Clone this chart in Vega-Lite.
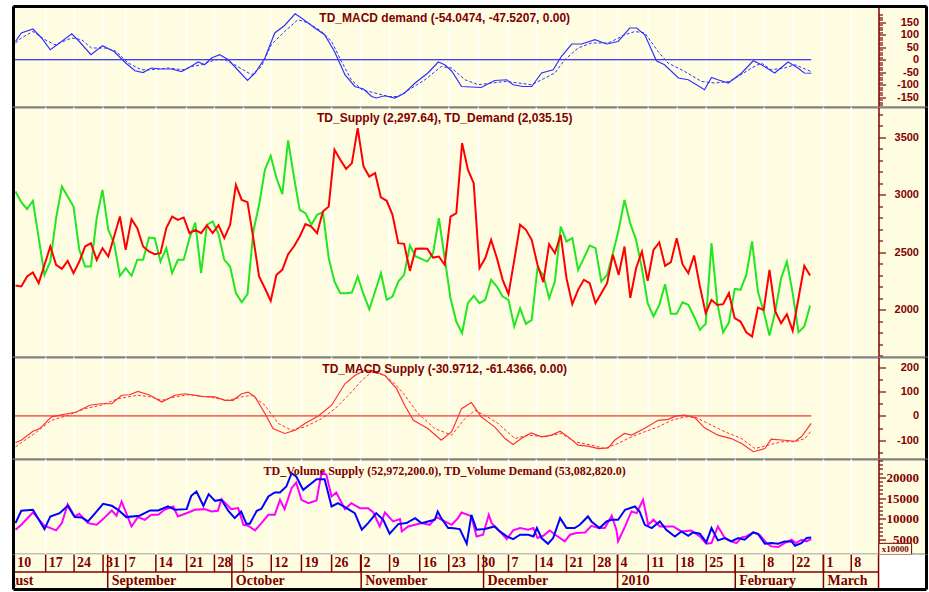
{
"$schema":"https://vega.github.io/schema/vega-lite/v6.json",
"background":"#ffffff",
"padding":{"left":10.5,"top":3.5,"right":2,"bottom":2.5},
"bounds":"flush",
"spacing":0,
"config":{"view":{"fill":"#FFFDE1","stroke":"#808080","strokeWidth":2},
 "axis":{"labelColor":"#800000","tickColor":"#800000","domainColor":"#800000","domainWidth":1.5,"tickWidth":1.2,"labelFontWeight":"bold","labelOverlap":false,"labelBound":false,"labelFlush":false,"grid":false}},
"datasets":{
"sd":[{"t":0,"s":2211,"d":3030},{"t":1,"s":2203,"d":2937},{"t":2,"s":2290,"d":2876},{"t":3,"s":2325,"d":2949},{"t":4,"s":2232,"d":2624},{"t":5,"s":2392,"d":2304},{"t":6,"s":2551,"d":2420},{"t":7,"s":2392,"d":2798},{"t":8,"s":2357,"d":3073},{"t":9,"s":2426,"d":2986},{"t":10,"s":2319,"d":2899},{"t":11,"s":2420,"d":2522},{"t":12,"s":2551,"d":2377},{"t":13,"s":2580,"d":2377},{"t":14,"s":2435,"d":2798},{"t":15,"s":2537,"d":3044},{"t":16,"s":2464,"d":2696},{"t":17,"s":2638,"d":2580},{"t":18,"s":2812,"d":2296},{"t":19,"s":2522,"d":2362},{"t":20,"s":2789,"d":2296},{"t":21,"s":2711,"d":2435},{"t":22,"s":2551,"d":2435},{"t":23,"s":2508,"d":2629},{"t":24,"s":2484,"d":2624},{"t":25,"s":2493,"d":2420},{"t":26,"s":2711,"d":2537},{"t":27,"s":2812,"d":2319},{"t":28,"s":2783,"d":2435},{"t":29,"s":2804,"d":2435},{"t":30,"s":2667,"d":2624},{"t":31,"s":2696,"d":2760},{"t":32,"s":2667,"d":2319},{"t":33,"s":2734,"d":2740},{"t":34,"s":2667,"d":2769},{"t":35,"s":2737,"d":2660},{"t":36,"s":2624,"d":2435},{"t":37,"s":2740,"d":2377},{"t":38,"s":3088,"d":2145},{"t":39,"s":2957,"d":2066},{"t":40,"s":2937,"d":2136},{"t":41,"s":2624,"d":2682},{"t":42,"s":2290,"d":2914},{"t":43,"s":2188,"d":3219},{"t":44,"s":2078,"d":3340},{"t":45,"s":2305,"d":3146},{"t":46,"s":2348,"d":3007},{"t":47,"s":2484,"d":3474},{"t":48,"s":2551,"d":3160},{"t":49,"s":2638,"d":2870},{"t":50,"s":2746,"d":2841},{"t":51,"s":2725,"d":2740},{"t":52,"s":2667,"d":2827},{"t":53,"s":2856,"d":2850},{"t":54,"s":2899,"d":2450},{"t":55,"s":3393,"d":2246},{"t":56,"s":3306,"d":2145},{"t":57,"s":3227,"d":2145},{"t":58,"s":3277,"d":2151},{"t":59,"s":3581,"d":2290},{"t":60,"s":3248,"d":2136},{"t":61,"s":3160,"d":2005},{"t":62,"s":3190,"d":2159},{"t":63,"s":2978,"d":2319},{"t":64,"s":2949,"d":2087},{"t":65,"s":2827,"d":2116},{"t":66,"s":2580,"d":2246},{"t":67,"s":2574,"d":2304},{"t":68,"s":2339,"d":2560},{"t":69,"s":2531,"d":2464},{"t":70,"s":2534,"d":2443},{"t":71,"s":2531,"d":2420},{"t":72,"s":2455,"d":2493},{"t":73,"s":2464,"d":2798},{"t":74,"s":2392,"d":2450},{"t":75,"s":2812,"d":2101},{"t":76,"s":2841,"d":1898},{"t":77,"s":3451,"d":1797},{"t":78,"s":3219,"d":2058},{"t":79,"s":3102,"d":2122},{"t":80,"s":2362,"d":2058},{"t":81,"s":2450,"d":2087},{"t":82,"s":2609,"d":2261},{"t":83,"s":2450,"d":2203},{"t":84,"s":2261,"d":2116},{"t":85,"s":2136,"d":2087},{"t":86,"s":2435,"d":1855},{"t":87,"s":2740,"d":2014},{"t":88,"s":2696,"d":1878},{"t":89,"s":2609,"d":1913},{"t":90,"s":2392,"d":2362},{"t":91,"s":2241,"d":2304},{"t":92,"s":2571,"d":2101},{"t":93,"s":2493,"d":2246},{"t":94,"s":2653,"d":2725},{"t":95,"s":2275,"d":2595},{"t":96,"s":2049,"d":2624},{"t":97,"s":2174,"d":2348},{"t":98,"s":2261,"d":2450},{"t":99,"s":2232,"d":2560},{"t":100,"s":2058,"d":2537},{"t":101,"s":2145,"d":2246},{"t":102,"s":2232,"d":2304},{"t":103,"s":2479,"d":2493},{"t":104,"s":2304,"d":2696},{"t":105,"s":2551,"d":2957},{"t":106,"s":2104,"d":2750},{"t":107,"s":2362,"d":2609},{"t":108,"s":2508,"d":2362},{"t":109,"s":2252,"d":2058},{"t":110,"s":2522,"d":1942},{"t":111,"s":2586,"d":2043},{"t":112,"s":2383,"d":2223},{"t":113,"s":2415,"d":1965},{"t":114,"s":2624,"d":1965},{"t":115,"s":2397,"d":2066},{"t":116,"s":2319,"d":2043},{"t":117,"s":2473,"d":1942},{"t":118,"s":2203,"d":1826},{"t":119,"s":1971,"d":1878},{"t":120,"s":2087,"d":2580},{"t":121,"s":2043,"d":2058},{"t":122,"s":2049,"d":1802},{"t":123,"s":2145,"d":1889},{"t":124,"s":1927,"d":2183},{"t":125,"s":1898,"d":2174},{"t":126,"s":1805,"d":2304},{"t":127,"s":1768,"d":2595},{"t":128,"s":2020,"d":2159},{"t":129,"s":1999,"d":1985},{"t":130,"s":2348,"d":1776},{"t":131,"s":1985,"d":1985},{"t":132,"s":1884,"d":2275},{"t":133,"s":1962,"d":2420},{"t":134,"s":1817,"d":2145},{"t":135,"s":2101,"d":1805},{"t":136,"s":2383,"d":1855},{"t":137,"s":2298,"d":2035}],
"md":[{"t":0,"k":"m","v":73},{"t":1,"k":"m","v":107},{"t":3,"k":"m","v":123},{"t":4.5,"k":"m","v":87},{"t":6,"k":"m","v":40},{"t":7.6,"k":"m","v":67},{"t":9.7,"k":"m","v":104},{"t":11,"k":"m","v":73},{"t":13,"k":"m","v":20},{"t":15,"k":"m","v":56},{"t":17,"k":"m","v":33},{"t":19,"k":"m","v":-13},{"t":20.6,"k":"m","v":-44},{"t":22,"k":"m","v":-51},{"t":23.4,"k":"m","v":-33},{"t":25,"k":"m","v":-37},{"t":26.9,"k":"m","v":-37},{"t":28.6,"k":"m","v":-47},{"t":29.8,"k":"m","v":-33},{"t":31.5,"k":"m","v":-9},{"t":32.6,"k":"m","v":-20},{"t":33.8,"k":"m","v":7},{"t":35.2,"k":"m","v":20},{"t":36.7,"k":"m","v":0},{"t":38,"k":"m","v":-33},{"t":40,"k":"m","v":-83},{"t":41.3,"k":"m","v":-53},{"t":43,"k":"m","v":7},{"t":44.7,"k":"m","v":107},{"t":46.4,"k":"m","v":137},{"t":48.2,"k":"m","v":184},{"t":49.3,"k":"m","v":167},{"t":51.6,"k":"m","v":127},{"t":53.3,"k":"m","v":100},{"t":55,"k":"m","v":33},{"t":56.8,"k":"m","v":-60},{"t":58.5,"k":"m","v":-107},{"t":60,"k":"m","v":-117},{"t":61.4,"k":"m","v":-147},{"t":62.2,"k":"m","v":-153},{"t":63.7,"k":"m","v":-144},{"t":65.4,"k":"m","v":-153},{"t":67.1,"k":"m","v":-133},{"t":68.9,"k":"m","v":-93},{"t":71.1,"k":"m","v":-53},{"t":72.9,"k":"m","v":-9},{"t":74,"k":"m","v":-20},{"t":75.2,"k":"m","v":-45},{"t":76.9,"k":"m","v":-107},{"t":80.3,"k":"m","v":-111},{"t":82.6,"k":"m","v":-83},{"t":84.7,"k":"m","v":-80},{"t":85.8,"k":"m","v":-100},{"t":87.5,"k":"m","v":-107},{"t":89,"k":"m","v":-107},{"t":90.7,"k":"m","v":-53},{"t":92.7,"k":"m","v":-40},{"t":94.1,"k":"m","v":13},{"t":95.9,"k":"m","v":63},{"t":97.6,"k":"m","v":63},{"t":99.9,"k":"m","v":80},{"t":101.9,"k":"m","v":63},{"t":103.9,"k":"m","v":73},{"t":105.9,"k":"m","v":127},{"t":107.1,"k":"m","v":127},{"t":108.5,"k":"m","v":100},{"t":110.5,"k":"m","v":-4},{"t":111.9,"k":"m","v":-20},{"t":114.3,"k":"m","v":-73},{"t":116,"k":"m","v":-80},{"t":118.8,"k":"m","v":-120},{"t":120,"k":"m","v":-71},{"t":121.1,"k":"m","v":-80},{"t":122.9,"k":"m","v":-93},{"t":125.2,"k":"m","v":-53},{"t":127.2,"k":"m","v":-4},{"t":128.6,"k":"m","v":-20},{"t":130.9,"k":"m","v":-53},{"t":133.2,"k":"m","v":-9},{"t":134.9,"k":"m","v":-33},{"t":136,"k":"m","v":-53},{"t":137.2,"k":"m","v":-54},
{"t":0,"k":"s","v":67},{"t":1,"k":"s","v":87},{"t":3,"k":"s","v":113},{"t":5.1,"k":"s","v":80},{"t":6.8,"k":"s","v":60},{"t":9.7,"k":"s","v":87},{"t":11.4,"k":"s","v":80},{"t":13.1,"k":"s","v":47},{"t":15.4,"k":"s","v":47},{"t":17.4,"k":"s","v":33},{"t":19.4,"k":"s","v":-13},{"t":21.7,"k":"s","v":-40},{"t":23.4,"k":"s","v":-40},{"t":26.3,"k":"s","v":-33},{"t":28.9,"k":"s","v":-40},{"t":30.3,"k":"s","v":-27},{"t":32.1,"k":"s","v":-20},{"t":34.4,"k":"s","v":0},{"t":36.1,"k":"s","v":0},{"t":37.8,"k":"s","v":-20},{"t":40.7,"k":"s","v":-60},{"t":42.4,"k":"s","v":-27},{"t":44.1,"k":"s","v":60},{"t":46.4,"k":"s","v":113},{"t":48.7,"k":"s","v":160},{"t":50.5,"k":"s","v":147},{"t":52.8,"k":"s","v":113},{"t":54.5,"k":"s","v":73},{"t":56.2,"k":"s","v":-7},{"t":57.9,"k":"s","v":-80},{"t":59.7,"k":"s","v":-120},{"t":62,"k":"s","v":-133},{"t":64.3,"k":"s","v":-147},{"t":66,"k":"s","v":-147},{"t":68.3,"k":"s","v":-113},{"t":70.6,"k":"s","v":-80},{"t":73.4,"k":"s","v":-27},{"t":75.2,"k":"s","v":-33},{"t":77.5,"k":"s","v":-80},{"t":79.8,"k":"s","v":-100},{"t":82.1,"k":"s","v":-93},{"t":84.4,"k":"s","v":-87},{"t":86.7,"k":"s","v":-93},{"t":89,"k":"s","v":-100},{"t":90.7,"k":"s","v":-80},{"t":93,"k":"s","v":-53},{"t":94.7,"k":"s","v":0},{"t":97,"k":"s","v":47},{"t":99.3,"k":"s","v":67},{"t":102.2,"k":"s","v":67},{"t":105.1,"k":"s","v":100},{"t":106.8,"k":"s","v":113},{"t":108.5,"k":"s","v":107},{"t":110.8,"k":"s","v":33},{"t":112.5,"k":"s","v":-13},{"t":115.4,"k":"s","v":-47},{"t":118.3,"k":"s","v":-87},{"t":120.6,"k":"s","v":-93},{"t":123,"k":"s","v":-87},{"t":124.6,"k":"s","v":-67},{"t":126.9,"k":"s","v":-33},{"t":128.6,"k":"s","v":-13},{"t":130.3,"k":"s","v":-40},{"t":132.6,"k":"s","v":-33},{"t":134.4,"k":"s","v":-20},{"t":137.2,"k":"s","v":-47.5}],
"ms":[{"t":0,"k":"m","v":-109},{"t":1,"k":"m","v":-100},{"t":3,"k":"m","v":-63},{"t":4.2,"k":"m","v":-52},{"t":6.2,"k":"m","v":-4},{"t":9.1,"k":"m","v":10},{"t":10.5,"k":"m","v":16},{"t":12.8,"k":"m","v":44},{"t":14.8,"k":"m","v":50},{"t":16.6,"k":"m","v":50},{"t":18.3,"k":"m","v":85},{"t":19.7,"k":"m","v":87},{"t":21.1,"k":"m","v":101},{"t":23.2,"k":"m","v":85},{"t":25.2,"k":"m","v":57},{"t":27.5,"k":"m","v":85},{"t":29.2,"k":"m","v":91},{"t":32.1,"k":"m","v":80},{"t":34.4,"k":"m","v":78},{"t":36.1,"k":"m","v":64},{"t":37.5,"k":"m","v":64},{"t":39,"k":"m","v":91},{"t":40.1,"k":"m","v":98},{"t":41.3,"k":"m","v":78},{"t":43,"k":"m","v":10},{"t":44.4,"k":"m","v":-52},{"t":46.4,"k":"m","v":-72},{"t":48.2,"k":"m","v":-59},{"t":49.9,"k":"m","v":-31},{"t":52.2,"k":"m","v":0},{"t":54.5,"k":"m","v":44},{"t":56.8,"k":"m","v":132},{"t":58.5,"k":"m","v":166},{"t":60.2,"k":"m","v":187},{"t":61.4,"k":"m","v":187},{"t":63.7,"k":"m","v":166},{"t":65.7,"k":"m","v":112},{"t":67.1,"k":"m","v":44},{"t":68.6,"k":"m","v":-18},{"t":71.1,"k":"m","v":-52},{"t":73.4,"k":"m","v":-100},{"t":75.2,"k":"m","v":-65},{"t":76.9,"k":"m","v":30},{"t":78.6,"k":"m","v":55},{"t":80.3,"k":"m","v":-4},{"t":82.6,"k":"m","v":-45},{"t":84.4,"k":"m","v":-93},{"t":85.8,"k":"m","v":-117},{"t":87.2,"k":"m","v":-93},{"t":88.9,"k":"m","v":-70},{"t":90.7,"k":"m","v":-86},{"t":92.4,"k":"m","v":-79},{"t":93.9,"k":"m","v":-63},{"t":95.3,"k":"m","v":-86},{"t":97,"k":"m","v":-120},{"t":98.7,"k":"m","v":-124},{"t":100.5,"k":"m","v":-134},{"t":102.2,"k":"m","v":-131},{"t":103.3,"k":"m","v":-100},{"t":105,"k":"m","v":-72},{"t":106.2,"k":"m","v":-79},{"t":108.2,"k":"m","v":-55},{"t":110.8,"k":"m","v":-18},{"t":112.5,"k":"m","v":-14},{"t":113.9,"k":"m","v":0},{"t":115.4,"k":"m","v":3},{"t":117.1,"k":"m","v":-7},{"t":118.8,"k":"m","v":-49},{"t":121.1,"k":"m","v":-79},{"t":123.4,"k":"m","v":-93},{"t":125.2,"k":"m","v":-113},{"t":127.2,"k":"m","v":-147},{"t":129.2,"k":"m","v":-134},{"t":130.3,"k":"m","v":-95},{"t":132.6,"k":"m","v":-100},{"t":134.4,"k":"m","v":-104},{"t":135.5,"k":"m","v":-86},{"t":137.2,"k":"m","v":-31},
{"t":0,"k":"s","v":-127},{"t":1.6,"k":"s","v":-100},{"t":3.3,"k":"s","v":-72},{"t":6.2,"k":"s","v":-18},{"t":9.1,"k":"s","v":3},{"t":12,"k":"s","v":30},{"t":14.8,"k":"s","v":44},{"t":17.7,"k":"s","v":71},{"t":21.1,"k":"s","v":85},{"t":23.4,"k":"s","v":78},{"t":25.2,"k":"s","v":64},{"t":27.5,"k":"s","v":78},{"t":29.8,"k":"s","v":87},{"t":33.2,"k":"s","v":78},{"t":36.7,"k":"s","v":64},{"t":39,"k":"s","v":78},{"t":40.7,"k":"s","v":85},{"t":43,"k":"s","v":44},{"t":45.3,"k":"s","v":-31},{"t":47.6,"k":"s","v":-59},{"t":49.9,"k":"s","v":-45},{"t":52.8,"k":"s","v":-11},{"t":55.1,"k":"s","v":30},{"t":57.4,"k":"s","v":85},{"t":59.7,"k":"s","v":146},{"t":61.4,"k":"s","v":180},{"t":63.7,"k":"s","v":166},{"t":65.4,"k":"s","v":132},{"t":67.1,"k":"s","v":85},{"t":69.4,"k":"s","v":10},{"t":72.3,"k":"s","v":-52},{"t":75.2,"k":"s","v":-79},{"t":77.5,"k":"s","v":-11},{"t":79.2,"k":"s","v":23},{"t":80.9,"k":"s","v":3},{"t":83.2,"k":"s","v":-31},{"t":86.1,"k":"s","v":-93},{"t":88.4,"k":"s","v":-79},{"t":91.3,"k":"s","v":-86},{"t":94.1,"k":"s","v":-72},{"t":96.4,"k":"s","v":-106},{"t":99.3,"k":"s","v":-120},{"t":101.6,"k":"s","v":-134},{"t":103.9,"k":"s","v":-113},{"t":106.2,"k":"s","v":-86},{"t":108.5,"k":"s","v":-65},{"t":110.8,"k":"s","v":-45},{"t":113.1,"k":"s","v":-18},{"t":115.4,"k":"s","v":-4},{"t":117.1,"k":"s","v":-4},{"t":119.4,"k":"s","v":-31},{"t":122.3,"k":"s","v":-65},{"t":125.2,"k":"s","v":-93},{"t":127.5,"k":"s","v":-134},{"t":129.8,"k":"s","v":-120},{"t":132.1,"k":"s","v":-106},{"t":134.4,"k":"s","v":-106},{"t":136.1,"k":"s","v":-93},{"t":137.2,"k":"s","v":-61}],
"vol":[{"t":0,"k":"d","v":9000},{"t":1,"k":"d","v":11950},{"t":3,"k":"d","v":12190},{"t":5,"k":"d","v":7570},{"t":6,"k":"d","v":10600},{"t":7.6,"k":"d","v":11390},{"t":9,"k":"d","v":13150},{"t":10.2,"k":"d","v":10440},{"t":11.4,"k":"d","v":10360},{"t":12.5,"k":"d","v":9400},{"t":14,"k":"d","v":11790},{"t":15.1,"k":"d","v":13620},{"t":16.6,"k":"d","v":13150},{"t":17.7,"k":"d","v":12190},{"t":19.1,"k":"d","v":10440},{"t":21.4,"k":"d","v":10760},{"t":23.2,"k":"d","v":12030},{"t":24.6,"k":"d","v":12030},{"t":26.3,"k":"d","v":12990},{"t":27.5,"k":"d","v":12190},{"t":29.5,"k":"d","v":12350},{"t":30.3,"k":"d","v":15540},{"t":31.2,"k":"d","v":16570},{"t":32.4,"k":"d","v":13150},{"t":33.3,"k":"d","v":15940},{"t":34.4,"k":"d","v":14340},{"t":35.5,"k":"d","v":14580},{"t":36.7,"k":"d","v":11950},{"t":37.8,"k":"d","v":10200},{"t":38.9,"k":"d","v":11790},{"t":39.8,"k":"d","v":8840},{"t":40.4,"k":"d","v":8840},{"t":41.6,"k":"d","v":11950},{"t":42.4,"k":"d","v":12430},{"t":43.6,"k":"d","v":15380},{"t":44.7,"k":"d","v":16330},{"t":45.6,"k":"d","v":16330},{"t":46.7,"k":"d","v":17770},{"t":47.6,"k":"d","v":20960},{"t":48.4,"k":"d","v":20160},{"t":49.6,"k":"d","v":16970},{"t":51.9,"k":"d","v":19520},{"t":53.3,"k":"d","v":19520},{"t":54.5,"k":"d","v":12990},{"t":55.6,"k":"d","v":13780},{"t":56.8,"k":"d","v":12830},{"t":58.5,"k":"d","v":11390},{"t":59.7,"k":"d","v":7410},{"t":60.8,"k":"d","v":9000},{"t":62.2,"k":"d","v":11390},{"t":63.4,"k":"d","v":9800},{"t":64.5,"k":"d","v":6450},{"t":66,"k":"d","v":8760},{"t":67.4,"k":"d","v":9000},{"t":68.9,"k":"d","v":10200},{"t":70,"k":"d","v":9000},{"t":71.1,"k":"d","v":9400},{"t":72.3,"k":"d","v":9800},{"t":72.8,"k":"d","v":11790},{"t":73.4,"k":"d","v":10200},{"t":74.6,"k":"d","v":7810},{"t":75.2,"k":"d","v":7810},{"t":76.6,"k":"d","v":7570},{"t":77.8,"k":"d","v":4060},{"t":78.6,"k":"d","v":10990},{"t":79.5,"k":"d","v":7410},{"t":80.9,"k":"d","v":7570},{"t":82.6,"k":"d","v":8200},{"t":83.5,"k":"d","v":7010},{"t":84.7,"k":"d","v":5810},{"t":85.8,"k":"d","v":5180},{"t":87,"k":"d","v":6210},{"t":88.4,"k":"d","v":6210},{"t":89.3,"k":"d","v":5810},{"t":89.9,"k":"d","v":7810},{"t":90.7,"k":"d","v":5420},{"t":91.8,"k":"d","v":4060},{"t":92.7,"k":"d","v":5420},{"t":93.9,"k":"d","v":10200},{"t":95,"k":"d","v":7810},{"t":96.4,"k":"d","v":7810},{"t":97.3,"k":"d","v":8600},{"t":98.7,"k":"d","v":10600},{"t":99.3,"k":"d","v":9400},{"t":100.7,"k":"d","v":7810},{"t":101.9,"k":"d","v":9400},{"t":102.8,"k":"d","v":9800},{"t":103.9,"k":"d","v":9800},{"t":105.1,"k":"d","v":12190},{"t":106.8,"k":"d","v":12990},{"t":107.6,"k":"d","v":11790},{"t":108.5,"k":"d","v":8600},{"t":109.7,"k":"d","v":7810},{"t":111.1,"k":"d","v":9400},{"t":112.2,"k":"d","v":7410},{"t":113.7,"k":"d","v":5810},{"t":114.8,"k":"d","v":7010},{"t":116,"k":"d","v":5970},{"t":116.8,"k":"d","v":6770},{"t":118,"k":"d","v":6450},{"t":119.1,"k":"d","v":4380},{"t":120,"k":"d","v":7810},{"t":121.1,"k":"d","v":4860},{"t":122.3,"k":"d","v":5420},{"t":123.4,"k":"d","v":4620},{"t":124.6,"k":"d","v":5420},{"t":125.7,"k":"d","v":5020},{"t":127.2,"k":"d","v":6770},{"t":128,"k":"d","v":6450},{"t":129.2,"k":"d","v":4060},{"t":130.3,"k":"d","v":4220},{"t":131.5,"k":"d","v":4060},{"t":132.6,"k":"d","v":4620},{"t":133.8,"k":"d","v":4620},{"t":134.4,"k":"d","v":3580},{"t":135.5,"k":"d","v":4220},{"t":136.4,"k":"d","v":5420},{"t":137.2,"k":"d","v":5580},
{"t":0,"k":"s","v":7410},{"t":1,"k":"s","v":8600},{"t":3,"k":"s","v":11550},{"t":5,"k":"s","v":8360},{"t":7,"k":"s","v":7250},{"t":8,"k":"s","v":9000},{"t":9,"k":"s","v":13540},{"t":10.2,"k":"s","v":10600},{"t":11,"k":"s","v":11230},{"t":12.5,"k":"s","v":9000},{"t":14,"k":"s","v":8600},{"t":15.1,"k":"s","v":9960},{"t":16.6,"k":"s","v":12030},{"t":17.4,"k":"s","v":10760},{"t":18.3,"k":"s","v":14180},{"t":20,"k":"s","v":8200},{"t":21.1,"k":"s","v":10440},{"t":22.3,"k":"s","v":9800},{"t":23.4,"k":"s","v":10990},{"t":24.6,"k":"s","v":10990},{"t":25.7,"k":"s","v":12190},{"t":27.2,"k":"s","v":12990},{"t":28,"k":"s","v":10600},{"t":29.8,"k":"s","v":11550},{"t":30.9,"k":"s","v":12190},{"t":32.6,"k":"s","v":12350},{"t":33.8,"k":"s","v":11790},{"t":34.9,"k":"s","v":11950},{"t":35.5,"k":"s","v":14740},{"t":37.2,"k":"s","v":12350},{"t":38.4,"k":"s","v":12590},{"t":39.3,"k":"s","v":8600},{"t":40.1,"k":"s","v":8360},{"t":41.3,"k":"s","v":7250},{"t":42.4,"k":"s","v":9000},{"t":43.6,"k":"s","v":10990},{"t":44.7,"k":"s","v":10990},{"t":45.6,"k":"s","v":14580},{"t":46.4,"k":"s","v":12350},{"t":47.6,"k":"s","v":17370},{"t":48.4,"k":"s","v":18720},{"t":49.3,"k":"s","v":14580},{"t":50.5,"k":"s","v":13780},{"t":51.9,"k":"s","v":14420},{"t":52.8,"k":"s","v":21350},{"t":53.6,"k":"s","v":20560},{"t":54.5,"k":"s","v":15380},{"t":55.3,"k":"s","v":16330},{"t":56.8,"k":"s","v":12350},{"t":57.9,"k":"s","v":13780},{"t":59.4,"k":"s","v":12590},{"t":60.8,"k":"s","v":12590},{"t":61.7,"k":"s","v":11550},{"t":62.8,"k":"s","v":8200},{"t":63.7,"k":"s","v":11550},{"t":65.1,"k":"s","v":9400},{"t":66.3,"k":"s","v":9960},{"t":66.6,"k":"s","v":7010},{"t":67.7,"k":"s","v":8200},{"t":68.9,"k":"s","v":8600},{"t":70,"k":"s","v":9000},{"t":71.4,"k":"s","v":8600},{"t":72.6,"k":"s","v":10440},{"t":74,"k":"s","v":9400},{"t":75.2,"k":"s","v":8600},{"t":76.3,"k":"s","v":10200},{"t":76.9,"k":"s","v":11550},{"t":78,"k":"s","v":10990},{"t":78.6,"k":"s","v":10600},{"t":79.5,"k":"s","v":5810},{"t":80.6,"k":"s","v":6210},{"t":81.6,"k":"s","v":10990},{"t":82.1,"k":"s","v":9000},{"t":83.5,"k":"s","v":7010},{"t":84.7,"k":"s","v":5180},{"t":85.8,"k":"s","v":7250},{"t":87,"k":"s","v":7810},{"t":88.4,"k":"s","v":7410},{"t":89.3,"k":"s","v":7810},{"t":90,"k":"s","v":5420},{"t":91,"k":"s","v":5970},{"t":92.1,"k":"s","v":7250},{"t":93.3,"k":"s","v":5970},{"t":94.7,"k":"s","v":4620},{"t":95.6,"k":"s","v":6210},{"t":96.7,"k":"s","v":6610},{"t":98.2,"k":"s","v":6770},{"t":99.3,"k":"s","v":8360},{"t":100.5,"k":"s","v":7810},{"t":101.6,"k":"s","v":7810},{"t":102.8,"k":"s","v":10760},{"t":103.6,"k":"s","v":7410},{"t":103.9,"k":"s","v":4620},{"t":105.1,"k":"s","v":8200},{"t":106.2,"k":"s","v":11790},{"t":107.1,"k":"s","v":11390},{"t":107.7,"k":"s","v":13150},{"t":108.2,"k":"s","v":14580},{"t":109.1,"k":"s","v":8600},{"t":110,"k":"s","v":9800},{"t":111.1,"k":"s","v":8200},{"t":112.2,"k":"s","v":8200},{"t":113.4,"k":"s","v":8200},{"t":114.8,"k":"s","v":7010},{"t":116.5,"k":"s","v":7250},{"t":118,"k":"s","v":5810},{"t":119.1,"k":"s","v":4060},{"t":120,"k":"s","v":4220},{"t":121.1,"k":"s","v":8200},{"t":122.3,"k":"s","v":5420},{"t":123.4,"k":"s","v":4620},{"t":124.3,"k":"s","v":4220},{"t":125.2,"k":"s","v":5580},{"t":126,"k":"s","v":5810},{"t":127.2,"k":"s","v":6770},{"t":128.3,"k":"s","v":6210},{"t":129.5,"k":"s","v":4220},{"t":130.3,"k":"s","v":3420},{"t":131.5,"k":"s","v":3260},{"t":132.6,"k":"s","v":4220},{"t":133.8,"k":"s","v":5020},{"t":134.6,"k":"s","v":4220},{"t":135.5,"k":"s","v":5020},{"t":136.4,"k":"s","v":4620},{"t":137.2,"k":"s","v":5180}],
"weeks":[{"t":-0.2,"label":"10"},{"t":5.2,"label":"17"},{"t":10.1,"label":"24"},{"t":15.1,"label":"31"},{"t":19,"label":"7"},{"t":24.2,"label":"14"},{"t":29.5,"label":"21"},{"t":34.3,"label":"28"},{"t":39.3,"label":"5"},{"t":44.1,"label":"12"},{"t":49.3,"label":"19"},{"t":54.5,"label":"26"},{"t":59.5,"label":"2"},{"t":64.5,"label":"9"},{"t":69.7,"label":"16"},{"t":74.7,"label":"23"},{"t":79.8,"label":"30"},{"t":85,"label":"7"},{"t":89.8,"label":"14"},{"t":95,"label":"21"},{"t":99.8,"label":"28"},{"t":103.8,"label":"4"},{"t":109.1,"label":"11"},{"t":114.1,"label":"18"},{"t":119.1,"label":"25"},{"t":124.1,"label":"1"},{"t":129.1,"label":"8"},{"t":134.1,"label":"22"},{"t":139.3,"label":"1"},{"t":144.1,"label":"8"}],
"months":[{"t":-5,"label":"August"},{"t":15.9,"label":"September"},{"t":37.3,"label":"October"},{"t":59.6,"label":"November"},{"t":80.7,"label":"December"},{"t":103.8,"label":"2010"},{"t":124.1,"label":"February"},{"t":139.3,"label":"March"}],
"one":[{}]
},
"vconcat":[
{"width":913,"height":101,
 "layer":[
  {"data":{"name":"weeks"},"mark":{"type":"rule","color":"#ffffff","strokeWidth":1.5},"encoding":{"x":{"field":"t","type":"quantitative","scale":{"domain":[-0.345,157.07],"nice":false,"zero":false},"axis":null}}},
  {"data":{"name":"one"},"mark":{"type":"rule","color":"#0000ff","strokeWidth":1},"encoding":{"x":{"datum":-0.345,"type":"quantitative","scale":{"domain":[-0.345,157.07],"nice":false,"zero":false},"axis":null},"x2":{"datum":137.2},"y":{"datum":0,"type":"quantitative","scale":{"domain":[-191,213],"nice":false,"zero":false},"axis":{"orient":"right","offset":-48,"title":null,"values":[-180,-170,-160,-150,-140,-130,-120,-110,-100,-90,-80,-70,-60,-50,-40,-30,-20,-10,0,10,20,30,40,50,60,70,80,90,100,110,120,130,140,150,160,170,180],"labelExpr":"(datum.value % 50 === 0 && abs(datum.value) <= 150) ? ('' + datum.value) : ''","tickSize":{"condition":{"test":"datum.value % 50 === 0","value":7},"value":4},"labelAlign":"right","labelPadding":33,"labelFont":"Liberation Sans","labelFontSize":11}}}},
  {"data":{"name":"md"},"transform":[{"filter":"datum.k === 's'"}],"mark":{"type":"line","color":"#3030ff","strokeWidth":1,"strokeDash":[3,2]},"encoding":{"x":{"field":"t","type":"quantitative","scale":{"domain":[-0.345,157.07],"nice":false,"zero":false},"axis":null},"y":{"field":"v","type":"quantitative","scale":{"domain":[-191,213],"nice":false,"zero":false},"axis":{"orient":"right","offset":-48,"title":null,"values":[-180,-170,-160,-150,-140,-130,-120,-110,-100,-90,-80,-70,-60,-50,-40,-30,-20,-10,0,10,20,30,40,50,60,70,80,90,100,110,120,130,140,150,160,170,180],"labelExpr":"(datum.value % 50 === 0 && abs(datum.value) <= 150) ? ('' + datum.value) : ''","tickSize":{"condition":{"test":"datum.value % 50 === 0","value":7},"value":4},"labelAlign":"right","labelPadding":33,"labelFont":"Liberation Sans","labelFontSize":11}}}},
  {"data":{"name":"md"},"transform":[{"filter":"datum.k === 'm'"}],"mark":{"type":"line","color":"#3030ff","strokeWidth":1.2},"encoding":{"x":{"field":"t","type":"quantitative","scale":{"domain":[-0.345,157.07],"nice":false,"zero":false},"axis":null},"y":{"field":"v","type":"quantitative","scale":{"domain":[-191,213],"nice":false,"zero":false},"axis":{"orient":"right","offset":-48,"title":null,"values":[-180,-170,-160,-150,-140,-130,-120,-110,-100,-90,-80,-70,-60,-50,-40,-30,-20,-10,0,10,20,30,40,50,60,70,80,90,100,110,120,130,140,150,160,170,180],"labelExpr":"(datum.value % 50 === 0 && abs(datum.value) <= 150) ? ('' + datum.value) : ''","tickSize":{"condition":{"test":"datum.value % 50 === 0","value":7},"value":4},"labelAlign":"right","labelPadding":33,"labelFont":"Liberation Sans","labelFontSize":11}}}},
  {"data":{"name":"one"},"mark":{"type":"text","font":"Liberation Sans","fontWeight":"bold","fontSize":12,"color":"#800000"},"encoding":{"x":{"datum":74,"type":"quantitative","scale":{"domain":[-0.345,157.07],"nice":false,"zero":false},"axis":null},"y":{"datum":169,"type":"quantitative","scale":{"domain":[-191,213],"nice":false,"zero":false},"axis":{"orient":"right","offset":-48,"title":null,"values":[-180,-170,-160,-150,-140,-130,-120,-110,-100,-90,-80,-70,-60,-50,-40,-30,-20,-10,0,10,20,30,40,50,60,70,80,90,100,110,120,130,140,150,160,170,180],"labelExpr":"(datum.value % 50 === 0 && abs(datum.value) <= 150) ? ('' + datum.value) : ''","tickSize":{"condition":{"test":"datum.value % 50 === 0","value":7},"value":4},"labelAlign":"right","labelPadding":33,"labelFont":"Liberation Sans","labelFontSize":11}},"text":{"value":"TD_MACD demand (-54.0474, -47.5207, 0.00)"}}},
  {"data":{"name":"one"},"mark":{"type":"rule","color":"#000000","strokeWidth":3},"encoding":{"y":{"datum":213,"type":"quantitative","scale":{"domain":[-191,213],"nice":false,"zero":false},"axis":{"orient":"right","offset":-48,"title":null,"values":[-180,-170,-160,-150,-140,-130,-120,-110,-100,-90,-80,-70,-60,-50,-40,-30,-20,-10,0,10,20,30,40,50,60,70,80,90,100,110,120,130,140,150,160,170,180],"labelExpr":"(datum.value % 50 === 0 && abs(datum.value) <= 150) ? ('' + datum.value) : ''","tickSize":{"condition":{"test":"datum.value % 50 === 0","value":7},"value":4},"labelAlign":"right","labelPadding":33,"labelFont":"Liberation Sans","labelFontSize":11}}}},
  {"data":{"name":"one"},"mark":{"type":"rule","color":"#000000","strokeWidth":3},"encoding":{"x":{"datum":-0.345,"type":"quantitative","scale":{"domain":[-0.345,157.07],"nice":false,"zero":false},"axis":null}}},
  {"data":{"name":"one"},"mark":{"type":"rule","color":"#000000","strokeWidth":3},"encoding":{"x":{"datum":157.07,"type":"quantitative","scale":{"domain":[-0.345,157.07],"nice":false,"zero":false},"axis":null}}}
 ]},
{"width":913,"height":250,
 "layer":[
  {"data":{"name":"weeks"},"mark":{"type":"rule","color":"#ffffff","strokeWidth":1.5},"encoding":{"x":{"field":"t","type":"quantitative","scale":{"domain":[-0.345,157.07],"nice":false,"zero":false},"axis":null}}},
  {"data":{"name":"sd"},"mark":{"type":"line","color":"#22e622","strokeWidth":2},"encoding":{"x":{"field":"t","type":"quantitative","scale":{"domain":[-0.345,157.07],"nice":false,"zero":false},"axis":null},"y":{"field":"d","type":"quantitative","scale":{"domain":[1585,3761],"nice":false,"zero":false},"axis":{"orient":"right","offset":-48,"title":null,"values":[1600,1700,1800,1900,2000,2100,2200,2300,2400,2500,2600,2700,2800,2900,3000,3100,3200,3300,3400,3500,3600,3700],"labelExpr":"datum.value % 500 === 0 ? ('' + datum.value) : ''","tickSize":{"condition":{"test":"datum.value % 500 === 0","value":7},"value":4},"labelAlign":"right","labelPadding":33,"labelFont":"Liberation Sans","labelFontSize":11}}}},
  {"data":{"name":"sd"},"mark":{"type":"line","color":"#ff0000","strokeWidth":2},"encoding":{"x":{"field":"t","type":"quantitative","scale":{"domain":[-0.345,157.07],"nice":false,"zero":false},"axis":null},"y":{"field":"s","type":"quantitative","scale":{"domain":[1585,3761],"nice":false,"zero":false},"axis":{"orient":"right","offset":-48,"title":null,"values":[1600,1700,1800,1900,2000,2100,2200,2300,2400,2500,2600,2700,2800,2900,3000,3100,3200,3300,3400,3500,3600,3700],"labelExpr":"datum.value % 500 === 0 ? ('' + datum.value) : ''","tickSize":{"condition":{"test":"datum.value % 500 === 0","value":7},"value":4},"labelAlign":"right","labelPadding":33,"labelFont":"Liberation Sans","labelFontSize":11}}}},
  {"data":{"name":"one"},"mark":{"type":"text","font":"Liberation Sans","fontWeight":"bold","fontSize":12,"color":"#800000"},"encoding":{"x":{"datum":74,"type":"quantitative","scale":{"domain":[-0.345,157.07],"nice":false,"zero":false},"axis":null},"y":{"datum":3670,"type":"quantitative","scale":{"domain":[1585,3761],"nice":false,"zero":false},"axis":{"orient":"right","offset":-48,"title":null,"values":[1600,1700,1800,1900,2000,2100,2200,2300,2400,2500,2600,2700,2800,2900,3000,3100,3200,3300,3400,3500,3600,3700],"labelExpr":"datum.value % 500 === 0 ? ('' + datum.value) : ''","tickSize":{"condition":{"test":"datum.value % 500 === 0","value":7},"value":4},"labelAlign":"right","labelPadding":33,"labelFont":"Liberation Sans","labelFontSize":11}},"text":{"value":"TD_Supply (2,297.64), TD_Demand (2,035.15)"}}},
  {"data":{"name":"one"},"mark":{"type":"rule","color":"#000000","strokeWidth":3},"encoding":{"x":{"datum":-0.345,"type":"quantitative","scale":{"domain":[-0.345,157.07],"nice":false,"zero":false},"axis":null}}},
  {"data":{"name":"one"},"mark":{"type":"rule","color":"#000000","strokeWidth":3},"encoding":{"x":{"datum":157.07,"type":"quantitative","scale":{"domain":[-0.345,157.07],"nice":false,"zero":false},"axis":null}}}
 ]},
{"width":913,"height":102,
 "layer":[
  {"data":{"name":"weeks"},"mark":{"type":"rule","color":"#ffffff","strokeWidth":1.5},"encoding":{"x":{"field":"t","type":"quantitative","scale":{"domain":[-0.345,157.07],"nice":false,"zero":false},"axis":null}}},
  {"data":{"name":"one"},"mark":{"type":"rule","color":"#ff0000","strokeWidth":1},"encoding":{"x":{"datum":-0.345,"type":"quantitative","scale":{"domain":[-0.345,157.07],"nice":false,"zero":false},"axis":null},"x2":{"datum":137.2},"y":{"datum":0,"type":"quantitative","scale":{"domain":[-179,240],"nice":false,"zero":false},"axis":{"orient":"right","offset":-48,"title":null,"values":[-150,-100,-50,0,50,100,150,200],"labelExpr":"datum.value % 100 === 0 ? ('' + datum.value) : ''","tickSize":{"condition":{"test":"datum.value % 100 === 0","value":7},"value":4},"labelAlign":"right","labelPadding":33,"labelFont":"Liberation Sans","labelFontSize":11}}}},
  {"data":{"name":"ms"},"transform":[{"filter":"datum.k === 's'"}],"mark":{"type":"line","color":"#ff3030","strokeWidth":1,"strokeDash":[3,2]},"encoding":{"x":{"field":"t","type":"quantitative","scale":{"domain":[-0.345,157.07],"nice":false,"zero":false},"axis":null},"y":{"field":"v","type":"quantitative","scale":{"domain":[-179,240],"nice":false,"zero":false},"axis":{"orient":"right","offset":-48,"title":null,"values":[-150,-100,-50,0,50,100,150,200],"labelExpr":"datum.value % 100 === 0 ? ('' + datum.value) : ''","tickSize":{"condition":{"test":"datum.value % 100 === 0","value":7},"value":4},"labelAlign":"right","labelPadding":33,"labelFont":"Liberation Sans","labelFontSize":11}}}},
  {"data":{"name":"ms"},"transform":[{"filter":"datum.k === 'm'"}],"mark":{"type":"line","color":"#ff3030","strokeWidth":1.2},"encoding":{"x":{"field":"t","type":"quantitative","scale":{"domain":[-0.345,157.07],"nice":false,"zero":false},"axis":null},"y":{"field":"v","type":"quantitative","scale":{"domain":[-179,240],"nice":false,"zero":false},"axis":{"orient":"right","offset":-48,"title":null,"values":[-150,-100,-50,0,50,100,150,200],"labelExpr":"datum.value % 100 === 0 ? ('' + datum.value) : ''","tickSize":{"condition":{"test":"datum.value % 100 === 0","value":7},"value":4},"labelAlign":"right","labelPadding":33,"labelFont":"Liberation Sans","labelFontSize":11}}}},
  {"data":{"name":"one"},"mark":{"type":"text","font":"Liberation Sans","fontWeight":"bold","fontSize":12,"color":"#800000"},"encoding":{"x":{"datum":74,"type":"quantitative","scale":{"domain":[-0.345,157.07],"nice":false,"zero":false},"axis":null},"y":{"datum":192,"type":"quantitative","scale":{"domain":[-179,240],"nice":false,"zero":false},"axis":{"orient":"right","offset":-48,"title":null,"values":[-150,-100,-50,0,50,100,150,200],"labelExpr":"datum.value % 100 === 0 ? ('' + datum.value) : ''","tickSize":{"condition":{"test":"datum.value % 100 === 0","value":7},"value":4},"labelAlign":"right","labelPadding":33,"labelFont":"Liberation Sans","labelFontSize":11}},"text":{"value":"TD_MACD Supply (-30.9712, -61.4366, 0.00)"}}},
  {"data":{"name":"one"},"mark":{"type":"rule","color":"#000000","strokeWidth":3},"encoding":{"x":{"datum":-0.345,"type":"quantitative","scale":{"domain":[-0.345,157.07],"nice":false,"zero":false},"axis":null}}},
  {"data":{"name":"one"},"mark":{"type":"rule","color":"#000000","strokeWidth":3},"encoding":{"x":{"datum":157.07,"type":"quantitative","scale":{"domain":[-0.345,157.07],"nice":false,"zero":false},"axis":null}}}
 ]},
{"width":913,"height":95,
 "layer":[
  {"data":{"name":"weeks"},"mark":{"type":"rule","color":"#ffffff","strokeWidth":1.5},"encoding":{"x":{"field":"t","type":"quantitative","scale":{"domain":[-0.345,157.07],"nice":false,"zero":false},"axis":null}}},
  {"data":{"name":"vol"},"transform":[{"filter":"datum.k === 's'"}],"mark":{"type":"line","color":"#ff00ff","strokeWidth":2},"encoding":{"x":{"field":"t","type":"quantitative","scale":{"domain":[-0.345,157.07],"nice":false,"zero":false},"axis":null},"y":{"field":"v","type":"quantitative","scale":{"domain":[1480,24240],"nice":false,"zero":false},"axis":{"orient":"right","offset":-48,"title":null,"values":[2000,3000,4000,5000,6000,7000,8000,9000,10000,11000,12000,13000,14000,15000,16000,17000,18000,19000,20000,21000,22000,23000,24000],"labelExpr":"datum.value % 5000 === 0 ? ('' + datum.value) : ''","tickSize":{"condition":{"test":"datum.value % 5000 === 0","value":7},"value":4},"labelAlign":"right","labelPadding":33,"labelFont":"Liberation Serif","labelFontSize":13}}}},
  {"data":{"name":"vol"},"transform":[{"filter":"datum.k === 'd'"}],"mark":{"type":"line","color":"#0000ff","strokeWidth":2},"encoding":{"x":{"field":"t","type":"quantitative","scale":{"domain":[-0.345,157.07],"nice":false,"zero":false},"axis":null},"y":{"field":"v","type":"quantitative","scale":{"domain":[1480,24240],"nice":false,"zero":false},"axis":{"orient":"right","offset":-48,"title":null,"values":[2000,3000,4000,5000,6000,7000,8000,9000,10000,11000,12000,13000,14000,15000,16000,17000,18000,19000,20000,21000,22000,23000,24000],"labelExpr":"datum.value % 5000 === 0 ? ('' + datum.value) : ''","tickSize":{"condition":{"test":"datum.value % 5000 === 0","value":7},"value":4},"labelAlign":"right","labelPadding":33,"labelFont":"Liberation Serif","labelFontSize":13}}}},
  {"data":{"name":"one"},"mark":{"type":"text","font":"Liberation Serif","fontWeight":"bold","fontSize":12,"color":"#800000"},"encoding":{"x":{"datum":74,"type":"quantitative","scale":{"domain":[-0.345,157.07],"nice":false,"zero":false},"axis":null},"y":{"datum":21486,"type":"quantitative","scale":{"domain":[1480,24240],"nice":false,"zero":false},"axis":{"orient":"right","offset":-48,"title":null,"values":[2000,3000,4000,5000,6000,7000,8000,9000,10000,11000,12000,13000,14000,15000,16000,17000,18000,19000,20000,21000,22000,23000,24000],"labelExpr":"datum.value % 5000 === 0 ? ('' + datum.value) : ''","tickSize":{"condition":{"test":"datum.value % 5000 === 0","value":7},"value":4},"labelAlign":"right","labelPadding":33,"labelFont":"Liberation Serif","labelFontSize":13}},"text":{"value":"TD_Volume Supply (52,972,200.0), TD_Volume Demand (53,082,820.0)"}}},
  {"data":{"name":"one"},"mark":{"type":"rect","fill":"#FFFDE1","stroke":"#800000","strokeWidth":1},"encoding":{"x":{"datum":148.85,"type":"quantitative","scale":{"domain":[-0.345,157.07],"nice":false,"zero":false},"axis":null},"x2":{"datum":154.5},"y":{"datum":1480,"type":"quantitative","scale":{"domain":[1480,24240],"nice":false,"zero":false},"axis":{"orient":"right","offset":-48,"title":null,"values":[2000,3000,4000,5000,6000,7000,8000,9000,10000,11000,12000,13000,14000,15000,16000,17000,18000,19000,20000,21000,22000,23000,24000],"labelExpr":"datum.value % 5000 === 0 ? ('' + datum.value) : ''","tickSize":{"condition":{"test":"datum.value % 5000 === 0","value":7},"value":4},"labelAlign":"right","labelPadding":33,"labelFont":"Liberation Serif","labelFontSize":13}},"y2":{"datum":4150}}},
  {"data":{"name":"one"},"mark":{"type":"text","font":"Liberation Serif","fontWeight":"bold","fontSize":9,"color":"#800000"},"encoding":{"x":{"datum":151.7,"type":"quantitative","scale":{"domain":[-0.345,157.07],"nice":false,"zero":false},"axis":null},"y":{"datum":2800,"type":"quantitative","scale":{"domain":[1480,24240],"nice":false,"zero":false},"axis":{"orient":"right","offset":-48,"title":null,"values":[2000,3000,4000,5000,6000,7000,8000,9000,10000,11000,12000,13000,14000,15000,16000,17000,18000,19000,20000,21000,22000,23000,24000],"labelExpr":"datum.value % 5000 === 0 ? ('' + datum.value) : ''","tickSize":{"condition":{"test":"datum.value % 5000 === 0","value":7},"value":4},"labelAlign":"right","labelPadding":33,"labelFont":"Liberation Serif","labelFontSize":13}},"text":{"value":"x10000"}}},
  {"data":{"name":"one"},"mark":{"type":"rule","color":"#000000","strokeWidth":3},"encoding":{"x":{"datum":-0.345,"type":"quantitative","scale":{"domain":[-0.345,157.07],"nice":false,"zero":false},"axis":null}}},
  {"data":{"name":"one"},"mark":{"type":"rule","color":"#000000","strokeWidth":3},"encoding":{"x":{"datum":157.07,"type":"quantitative","scale":{"domain":[-0.345,157.07],"nice":false,"zero":false},"axis":null}}}
 ]},
{"width":913,"height":35,"view":{"fill":"#ffffff","stroke":null},
 "layer":[
  {"data":{"name":"one"},"mark":{"type":"rect","color":"#FFFDE1"},"encoding":{"x":{"datum":-0.345,"type":"quantitative","scale":{"domain":[-0.345,157.07],"nice":false,"zero":false},"axis":null},"x2":{"datum":148.8},"y":{"datum":0,"type":"quantitative","scale":{"domain":[0,2],"nice":false,"zero":false},"axis":null},"y2":{"datum":2}}},
  {"data":{"name":"one"},"mark":{"type":"rule","color":"#800000","strokeWidth":1.5},"encoding":{"x":{"datum":-0.345,"type":"quantitative","scale":{"domain":[-0.345,157.07],"nice":false,"zero":false},"axis":null},"x2":{"datum":148.8},"y":{"datum":1,"type":"quantitative","scale":{"domain":[0,2],"nice":false,"zero":false},"axis":null}}},
  {"data":{"name":"one"},"mark":{"type":"rule","color":"#800000","strokeWidth":1.5},"encoding":{"x":{"datum":148.8,"type":"quantitative","scale":{"domain":[-0.345,157.07],"nice":false,"zero":false},"axis":null},"y":{"datum":0,"type":"quantitative","scale":{"domain":[0,2],"nice":false,"zero":false},"axis":null},"y2":{"datum":2}}},
  {"data":{"name":"weeks"},"mark":{"type":"rule","color":"#800000","strokeWidth":1.5},"encoding":{"x":{"field":"t","type":"quantitative","scale":{"domain":[-0.345,157.07],"nice":false,"zero":false},"axis":null},"y":{"datum":1,"type":"quantitative","scale":{"domain":[0,2],"nice":false,"zero":false},"axis":null},"y2":{"datum":2}}},
  {"data":{"name":"months"},"mark":{"type":"rule","color":"#800000","strokeWidth":1.5,"clip":true},"encoding":{"x":{"field":"t","type":"quantitative","scale":{"domain":[-0.345,157.07],"nice":false,"zero":false},"axis":null},"y":{"datum":0,"type":"quantitative","scale":{"domain":[0,2],"nice":false,"zero":false},"axis":null},"y2":{"datum":2}}},
  {"data":{"name":"weeks"},"mark":{"type":"text","font":"Liberation Serif","fontWeight":"bold","fontSize":14,"color":"#800000","align":"left","dx":3},"encoding":{"x":{"field":"t","type":"quantitative","scale":{"domain":[-0.345,157.07],"nice":false,"zero":false},"axis":null},"y":{"datum":1.5,"type":"quantitative","scale":{"domain":[0,2],"nice":false,"zero":false},"axis":null},"text":{"field":"label"}}},
  {"data":{"name":"months"},"mark":{"type":"text","font":"Liberation Serif","fontWeight":"bold","fontSize":14,"color":"#800000","align":"left","dx":4,"clip":true},"encoding":{"x":{"field":"t","type":"quantitative","scale":{"domain":[-0.345,157.07],"nice":false,"zero":false},"axis":null},"y":{"datum":0.5,"type":"quantitative","scale":{"domain":[0,2],"nice":false,"zero":false},"axis":null},"text":{"field":"label"}}},
  {"data":{"name":"one"},"mark":{"type":"rule","color":"#000000","strokeWidth":3},"encoding":{"y":{"datum":0,"type":"quantitative","scale":{"domain":[0,2],"nice":false,"zero":false},"axis":null}}},
  {"data":{"name":"one"},"mark":{"type":"rule","color":"#000000","strokeWidth":3},"encoding":{"x":{"datum":-0.345,"type":"quantitative","scale":{"domain":[-0.345,157.07],"nice":false,"zero":false},"axis":null}}},
  {"data":{"name":"one"},"mark":{"type":"rule","color":"#000000","strokeWidth":3},"encoding":{"x":{"datum":157.07,"type":"quantitative","scale":{"domain":[-0.345,157.07],"nice":false,"zero":false},"axis":null}}}
 ]}
]
}
